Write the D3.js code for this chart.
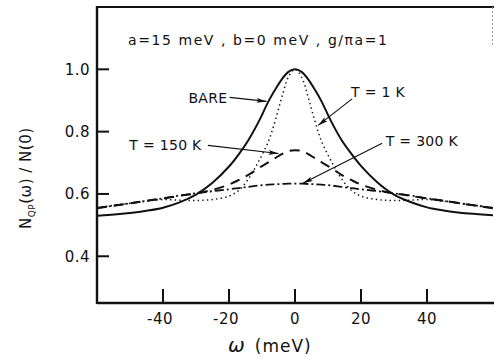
<!DOCTYPE html>
<html>
<head>
<meta charset="utf-8">
<script src="https://cdn.jsdelivr.net/npm/d3@7"></script>
<style>
  body { margin: 0; background: #fff; }
  text { font-family: "DejaVu Sans", sans-serif; fill: #111; }
</style>
</head>
<body>
<div id="chart"></div>
<script>
// data
const omega  = [-60, -50, -45, -40, -35, -30, -25, -20, -17, -14, -11, -8, -6, -4, -2, 0, 2, 4, 6, 8, 11, 14, 17, 20, 25, 30, 35, 40, 45, 50, 60];
const bare   = [0.530, 0.539, 0.546, 0.556, 0.573, 0.598, 0.636, 0.688, 0.728, 0.775, 0.832, 0.898, 0.935, 0.968, 0.992, 1.0,
                0.992, 0.968, 0.935, 0.898, 0.832, 0.775, 0.730, 0.690, 0.637, 0.598, 0.574, 0.557, 0.547, 0.540, 0.532];
const t1K    = [0.556, 0.570, 0.577, 0.582, 0.580, 0.579, 0.582, 0.593, 0.612, 0.650, 0.705, 0.770, 0.835, 0.910, 0.975, 1.0,
                0.975, 0.910, 0.835, 0.770, 0.705, 0.650, 0.612, 0.593, 0.582, 0.579, 0.580, 0.582, 0.577, 0.570, 0.556];
const t150K  = [0.554, 0.570, 0.578, 0.585, 0.594, 0.602, 0.613, 0.630, 0.645, 0.662, 0.683, 0.702, 0.715, 0.728, 0.738, 0.740,
                0.738, 0.728, 0.715, 0.702, 0.683, 0.662, 0.645, 0.630, 0.613, 0.602, 0.594, 0.585, 0.578, 0.570, 0.554];
const t300K  = [0.555, 0.570, 0.578, 0.586, 0.595, 0.602, 0.609, 0.615, 0.619, 0.623, 0.627, 0.630, 0.631, 0.632, 0.633, 0.633,
                0.633, 0.632, 0.631, 0.630, 0.627, 0.623, 0.619, 0.615, 0.609, 0.602, 0.595, 0.586, 0.578, 0.570, 0.555];
const xTicks = [-40, -20, 0, 20, 40];
const yTicks = [0.4, 0.6, 0.8, 1.0];

// annotation labels with arrow tail/tip in data units
const notes = [
  {text: "BARE",      tx: -20.5, ty: 0.893, anchor: "end",   from: [-19.8, 0.910], to: [-8.6, 0.897]},
  {text: "T = 150 K", tx: -28.3, ty: 0.740, anchor: "end",   from: [-26.4, 0.756], to: [-5.0, 0.730]},
  {text: "T = 1 K",   tx: 17.0,  ty: 0.910, anchor: "start", from: [17.3, 0.905],  to: [7.0, 0.820]},
  {text: "T = 300 K", tx: 27.5,  ty: 0.755, anchor: "start", from: [26.4, 0.763],  to: [2.4, 0.634]}
];

const W = 494, H = 360;
const margin = {top: 7, right: 1, bottom: 57, left: 97};
const width = W - margin.left - margin.right;
const height = H - margin.top - margin.bottom;

const svg = d3.select("#chart").append("svg")
  .attr("width", W).attr("height", H);

const x = d3.scaleLinear().domain([-60, 60]).range([margin.left, margin.left + width]);
const y = d3.scaleLinear().domain([0.25, 1.2]).range([margin.top + height, margin.top]);

const defs = svg.append("defs");
defs.append("clipPath").attr("id", "clip")
  .append("rect")
  .attr("x", margin.left).attr("y", margin.top)
  .attr("width", width).attr("height", height);

defs.append("marker")
  .attr("id", "arrow")
  .attr("viewBox", "0 0 10 6")
  .attr("refX", 10).attr("refY", 3)
  .attr("markerWidth", 10).attr("markerHeight", 6)
  .attr("markerUnits", "userSpaceOnUse")
  .attr("orient", "auto")
  .append("path")
  .attr("d", "M0,0.6 L10,3 L0,5.4 L2,3 Z")
  .attr("fill", "#111");

// curves
const line = d3.line()
  .x((d, i) => x(omega[i]))
  .y(d => y(d))
  .curve(d3.curveCatmullRom.alpha(0.5));

const series = [
  {vals: t300K, dash: "9,3,2,3", w: 1.8},
  {vals: t150K, dash: "10,7",    w: 2},
  {vals: t1K,   dash: "1.4,3.2", w: 1.5},
  {vals: bare,  dash: null,      w: 2}
];

svg.append("g").attr("clip-path", "url(#clip)")
  .selectAll("path")
  .data(series)
  .enter()
  .append("path")
  .attr("d", d => line(d.vals))
  .attr("fill", "none")
  .attr("stroke", "#111")
  .attr("stroke-width", d => d.w)
  .attr("stroke-dasharray", d => d.dash);

// frame
svg.append("line")
  .attr("x1", margin.left).attr("x2", margin.left)
  .attr("y1", margin.top - 1).attr("y2", margin.top + height + 1)
  .attr("stroke", "#111").attr("stroke-width", 2.4);
svg.append("line")
  .attr("x1", margin.left).attr("x2", W)
  .attr("y1", margin.top).attr("y2", margin.top)
  .attr("stroke", "#111").attr("stroke-width", 2.2);
svg.append("line")
  .attr("x1", margin.left).attr("x2", W)
  .attr("y1", margin.top + height).attr("y2", margin.top + height)
  .attr("stroke", "#111").attr("stroke-width", 2.4);
svg.append("line")
  .attr("x1", W - 1.5).attr("x2", W - 1.5)
  .attr("y1", margin.top).attr("y2", margin.top + 40)
  .attr("stroke", "#999").attr("stroke-width", 1)
  .attr("stroke-dasharray", "2,2");

// y ticks (inward)
svg.append("g").selectAll("line")
  .data(yTicks).enter().append("line")
  .attr("x1", margin.left).attr("x2", margin.left + 12)
  .attr("y1", d => y(d)).attr("y2", d => y(d))
  .attr("stroke", "#111").attr("stroke-width", 2);
svg.append("g").selectAll("text")
  .data(yTicks).enter().append("text")
  .attr("x", margin.left - 7)
  .attr("y", d => y(d) + 5.5)
  .attr("text-anchor", "end")
  .attr("font-size", 15)
  .attr("letter-spacing", 0.5)
  .text(d => d.toFixed(1));

// x ticks (inward)
svg.append("g").selectAll("line")
  .data(xTicks).enter().append("line")
  .attr("x1", d => x(d)).attr("x2", d => x(d))
  .attr("y1", margin.top + height).attr("y2", margin.top + height - 14)
  .attr("stroke", "#111").attr("stroke-width", 2);
svg.append("g").selectAll("text")
  .data(xTicks).enter().append("text")
  .attr("x", d => x(d) + (d < 0 ? -3 : 0))
  .attr("y", margin.top + height + 21)
  .attr("text-anchor", "middle")
  .attr("font-size", 15)
  .attr("letter-spacing", 0.5)
  .text(d => d < 0 ? "-" + Math.abs(d) : d);

// axis titles
const xt = svg.append("text")
  .attr("x", 228).attr("y", 352)
  .attr("font-size", 17)
  .attr("letter-spacing", 1);
xt.append("tspan").attr("font-style", "italic").attr("font-size", 20).text("ω");
xt.append("tspan").attr("dx", 9).text("(meV)");

const yt = svg.append("text")
  .attr("transform", "translate(31,229) rotate(-90)")
  .attr("font-size", 15)
  .attr("letter-spacing", 0.5);
yt.append("tspan").text("N");
yt.append("tspan").attr("font-size", 9).attr("dy", 4).text("QP");
yt.append("tspan").attr("dy", -4).text("(ω) / N(0)");

// parameter line
svg.append("text")
  .attr("x", 128).attr("y", 45)
  .attr("font-size", 14)
  .attr("textLength", 259)
  .attr("lengthAdjust", "spacing")
  .text("a=15 meV , b=0 meV , g/πa=1");

// annotations
const ann = svg.append("g");
ann.selectAll("line")
  .data(notes).enter().append("line")
  .attr("x1", d => x(d.from[0])).attr("y1", d => y(d.from[1]))
  .attr("x2", d => x(d.to[0])).attr("y2", d => y(d.to[1]))
  .attr("stroke", "#111").attr("stroke-width", 1.1)
  .attr("marker-end", "url(#arrow)");
ann.selectAll("text")
  .data(notes).enter().append("text")
  .attr("x", d => x(d.tx)).attr("y", d => y(d.ty))
  .attr("text-anchor", d => d.anchor)
  .attr("font-size", 14)
  .attr("letter-spacing", 0.3)
  .text(d => d.text);
</script>
</body>
</html>
